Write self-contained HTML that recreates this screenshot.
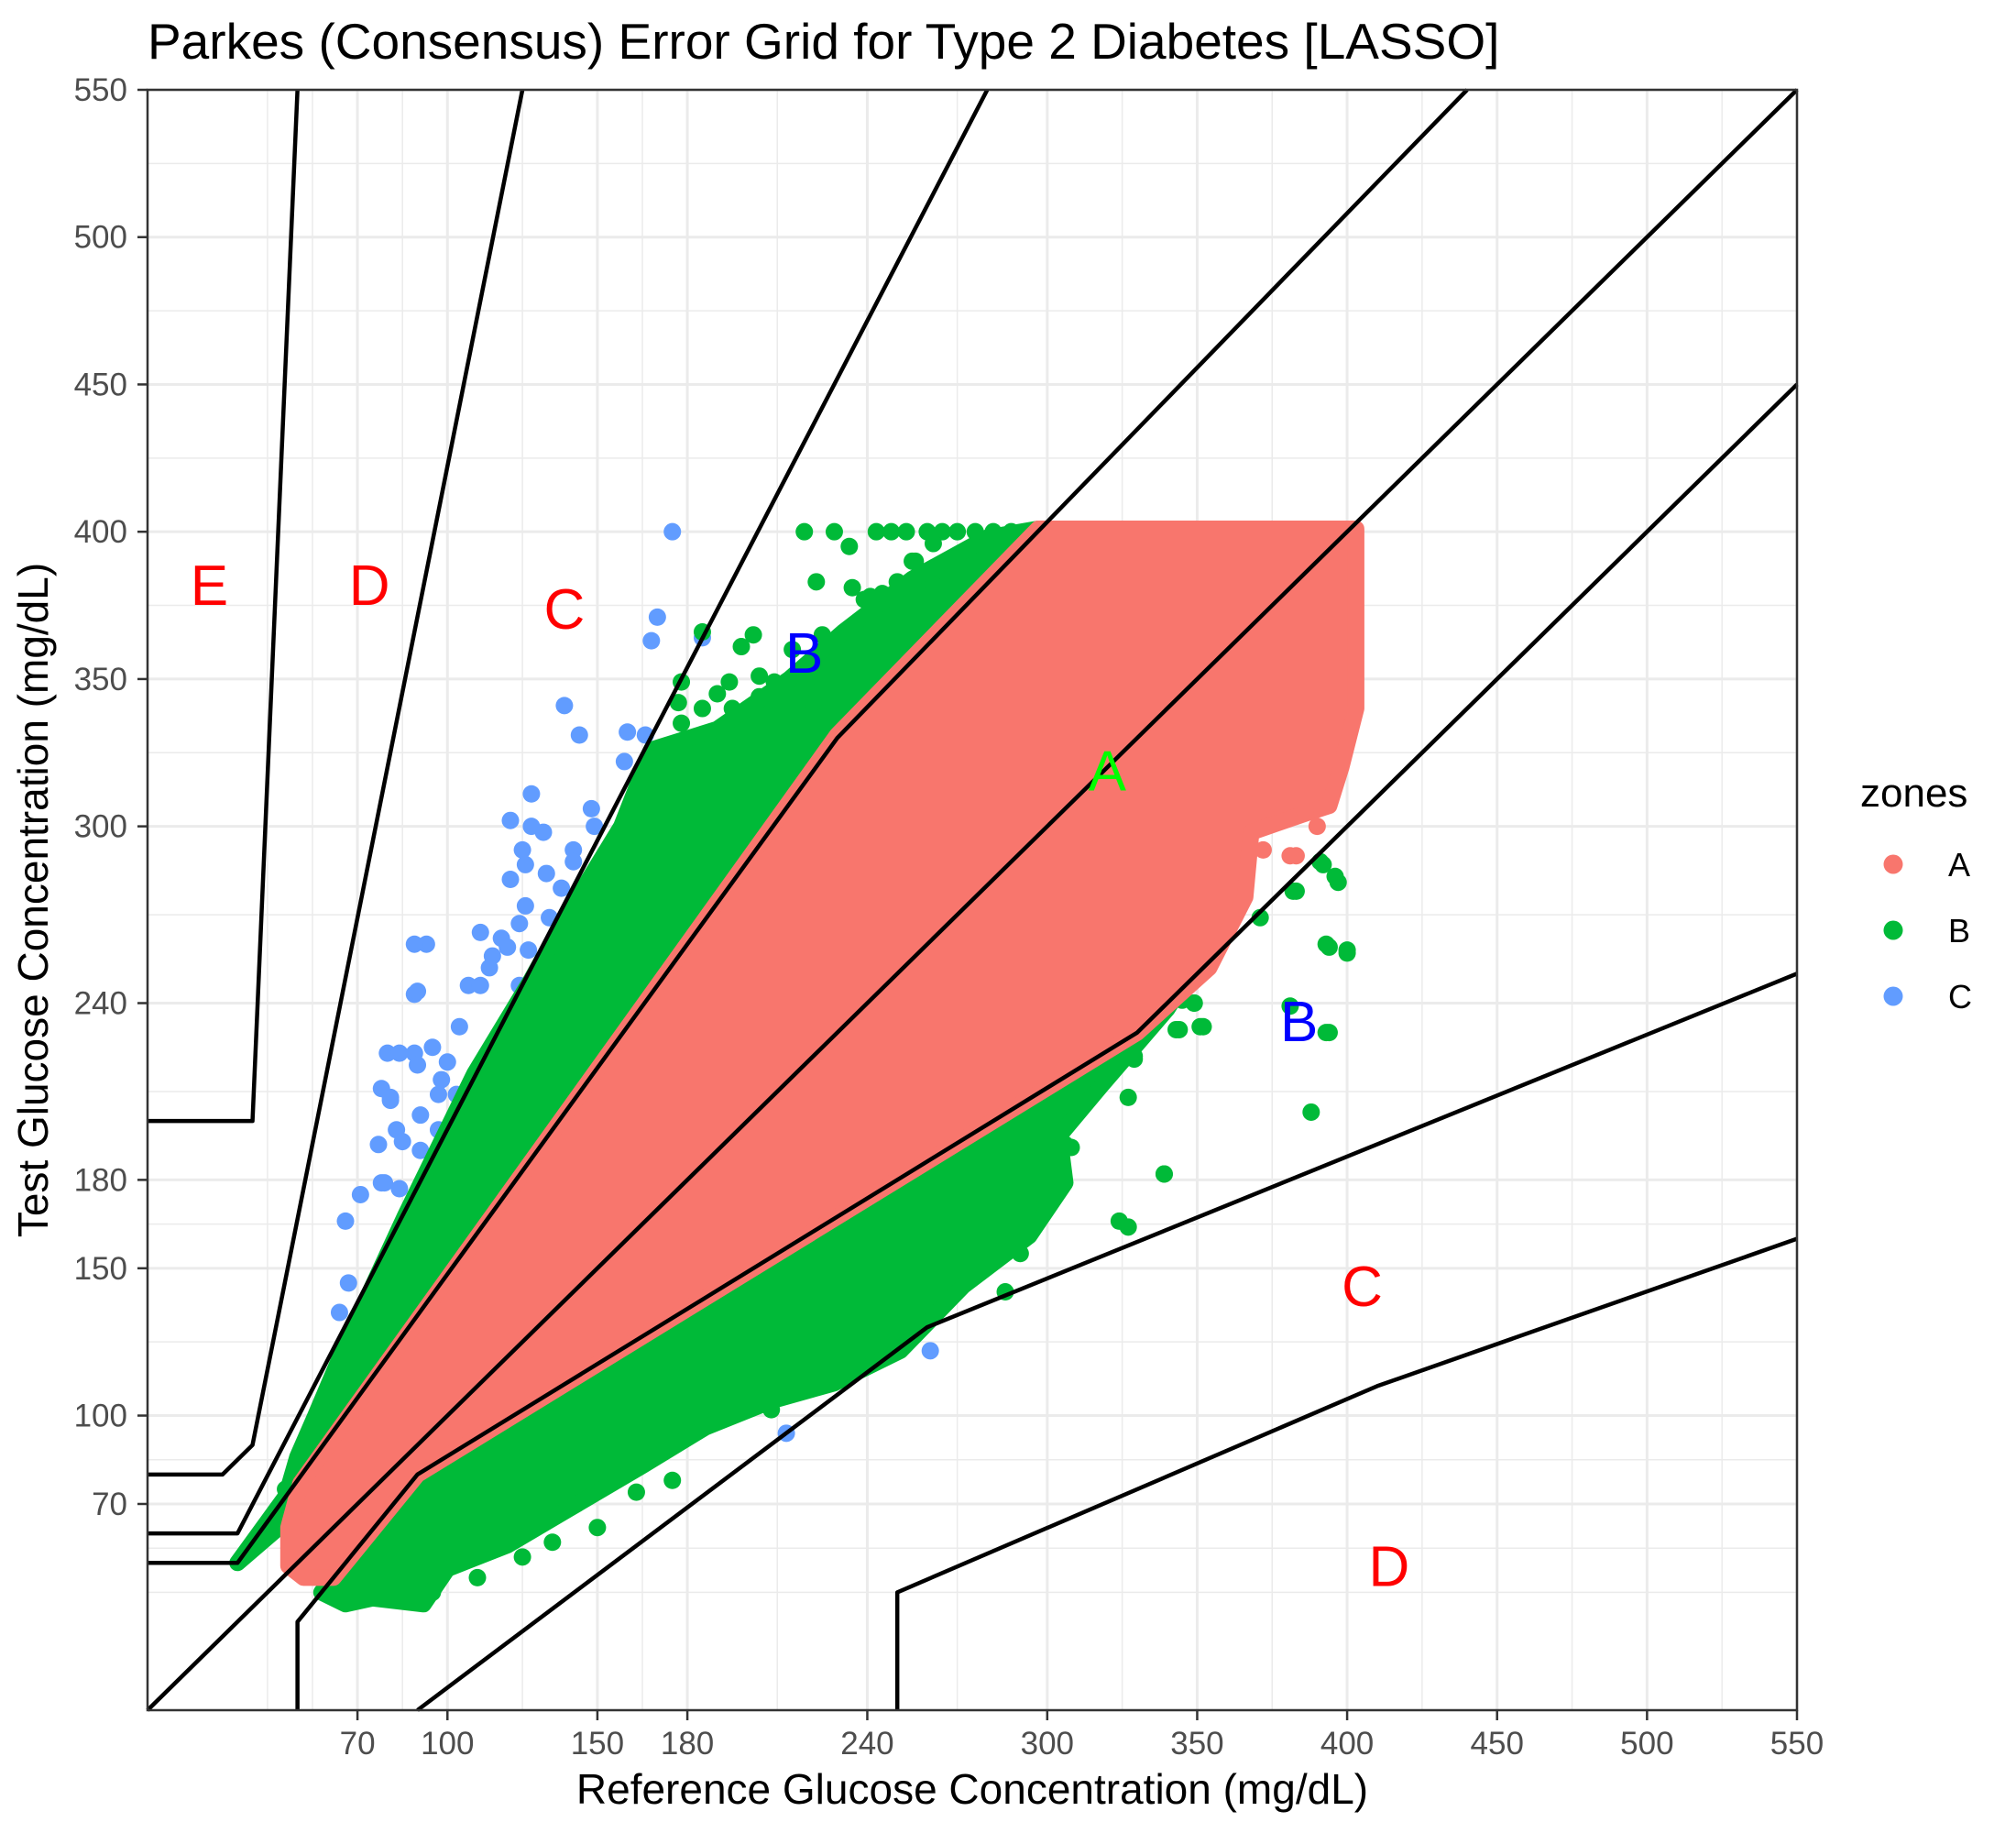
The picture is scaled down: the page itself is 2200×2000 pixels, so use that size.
<!DOCTYPE html>
<html><head><meta charset="utf-8"><title>Parkes Error Grid</title>
<style>
html,body{margin:0;padding:0;background:#fff;}
svg{display:block;font-family:"Liberation Sans",Arial,sans-serif;}
</style></head>
<body>
<svg id="chart" xmlns="http://www.w3.org/2000/svg" width="2200" height="2000" viewBox="0 0 2200 2000">
<rect x="0" y="0" width="2200" height="2000" fill="#fff"/>
<text x="161" y="64" font-size="55" fill="#000">Parkes (Consensus) Error Grid for Type 2 Diabetes [LASSO]</text>
<g id="grid"></g>
<g id="marks"></g>
<g id="zonelines"></g>
<g id="zonelabels"></g>
<rect x="161" y="98" width="1800" height="1768" fill="none" stroke="#333" stroke-width="2.5"/>
<g id="axes"></g>
<text x="1061" y="1968" font-size="46" text-anchor="middle" fill="#000">Reference Glucose Concentration (mg/dL)</text>
<text transform="translate(52,982) rotate(-90)" font-size="46" text-anchor="middle" fill="#000">Test Glucose Concentration (mg/dL)</text>
<g>
<text x="2030" y="880" font-size="44" fill="#000">zones</text>
<circle cx="2066" cy="943" r="10.5" fill="#F8766D"/>
<text x="2126" y="956" font-size="36" fill="#000">A</text>
<circle cx="2066" cy="1015" r="10.5" fill="#00BA38"/>
<text x="2126" y="1028" font-size="36" fill="#000">B</text>
<circle cx="2066" cy="1087" r="10.5" fill="#619CFF"/>
<text x="2126" y="1100" font-size="36" fill="#000">C</text>
</g>
</svg>
<script>
const xTicks=[70,100,150,180,240,300,350,400,450,500,550];
const yTicks=[70,100,150,180,240,300,350,400,450,500,550];
const minorBreaks=[40,55,85,125,165,210,270,325,375,425,475,525];
const domainMin=0, domainMax=550;
// zone boundary polylines [x,y] in mg/dL
const lineE=[[0,200],[35,200],[50,550]];
const lineDup=[[0,80],[25,80],[35,90],[125,550]];
const lineCup=[[0,60],[30,60],[280,550]];
const lineAup=[[0,50],[30,50],[230,330],[440,550]];
const lineIdentity=[[0,0],[550,550]];
const lineAlow=[[50,0],[50,30],[90,80],[330,230],[550,450]];
const lineBlow=[[90,0],[260,130],[550,250]];
const lineClow=[[250,0],[250,40],[410,110],[550,160]];
// dense point clouds (hull outlines of overplotted points)
const hullGreenUpper=[[46,72],[50,86],[56,100],[66,124],[86,168],[109,216],[128,248],[140,270],[158,300],[168,326],[190,333],[214,350],[232,366],[255,384],[280,398],[297,401],[230,330],[30,50],[46,64]];
const hullGreenLower=[[58,40],[66,36],[75,38],[92,36],[100,48],[120,56],[140,68],[165,83],[186,96],[208,105],[229,111],[251,122],[272,144],[294,161],[306,179],[304,195],[318,212],[340,238],[345,246],[330,230],[90,80],[58,40]];
const hullPink=[[47,49],[47,62],[51,77],[230,331],[297,401],[403,401],[403,340],[398,320],[394,307],[385,304],[368,298],[366,276],[354,252],[330,230],[90,80],[62,45],[52,45]];
// scattered individual points
const greenX=[219,229,243,248,253,260,265,270,276,282,288,293,262,270,280,255,250,262,275,240,225,215,210,220,232,190,195,185,178,200,210,222,234,223,256,241,246,235,245,239,202,198,194,204,185,178,177,209,204,324,327,286,280,291,298,306,339,343,351,349,371,382,396,391,393,400,393,388,381,329,329,392,397,383,394,400,394,352,345,349,344,352,327,329,320,314,327,339,288,308,297,298,289,308,301,46,50,135,163,189,208,110,125,150,175,95];
const greenY=[400,400,400,400,400,400,400,400,400,400,400,400,396,392,395,390,383,382,388,372,365,360,345,350,358,345,340,340,335,330,338,342,395,383,390,378,367,381,379,377,365,361,349,351,366,349,342,349,344,166,164,142,158,155,179,192,182,231,232,240,269,278,283,288,260,258,230,203,239,227,222,287,281,278,259,257,230,251,241,240,231,232,227,221,220,216,208,182,194,191,185,175,171,207,196,75,85,57,74,109,102,45,52,62,78,40];
const blueX=[175,170,168,185,139,144,160,166,159,128,121,128,132,148,149,125,126,142,142,133,121,138,126,124,134,111,118,120,127,115,114,93,107,111,124,89,104,80,89,95,90,100,78,81,97,98,91,103,83,85,91,97,78,84,66,67,64,71,79,77,81,84,89,90,261,213];
const blueY=[400,371,363,364,341,331,332,331,322,311,302,300,298,306,300,292,287,292,288,284,282,279,273,267,269,264,262,259,258,256,252,260,246,246,246,243,232,223,223,225,219,220,211,207,209,214,202,209,197,193,190,197,179,177,166,145,135,175,179,192,208,223,260,244,122,94];
const pinkX=[381,383,386,390,372,360];
const pinkY=[290,290,305,300,292,288];
// zone text labels
const labelText=["E","D","C","B","A","B","C","D"];
const labelX=[20.6,74,139,219,320,384,405,414];
const labelY=[382,382,374,359,319,234,144,49];
const labelColor=["#FF0000","#FF0000","#FF0000","#0000FF","#00FF00","#0000FF","#FF0000","#FF0000"];

const L=161,R=1961,T=98,B=1866;
function X(v){return L+(v-domainMin)*(R-L)/(domainMax-domainMin);}
function Y(v){return B-(v-domainMin)*(B-T)/(domainMax-domainMin);}
const NS="http://www.w3.org/2000/svg";
function mk(tag,attrs,parent){const e=document.createElementNS(NS,tag);for(const k in attrs)e.setAttribute(k,attrs[k]);parent.appendChild(e);return e;}
const grid=document.getElementById('grid'),marks=document.getElementById('marks'),zl=document.getElementById('zonelines'),zlab=document.getElementById('zonelabels'),axes=document.getElementById('axes');

minorBreaks.forEach(v=>{
  const a=mk('line',{x1:X(v),x2:X(v),y1:T,y2:B,stroke:'#EBEBEB','stroke-width':1.5},grid);
  
  
  const b=mk('line',{x1:L,x2:R,y1:Y(v),y2:Y(v),stroke:'#EBEBEB','stroke-width':1.5},grid);
  
  
});
xTicks.forEach(v=>{
  const g=mk('line',{x1:X(v),x2:X(v),y1:T,y2:B,stroke:'#EBEBEB','stroke-width':3},grid);
  
  
  const t=mk('line',{x1:X(v),x2:X(v),y1:B,y2:B+11,stroke:'#333','stroke-width':2.5},axes);
  
  
  const lb=mk('text',{x:X(v),y:B+48,'font-size':35,'text-anchor':'middle',fill:'#4D4D4D'},axes);
  lb.textContent=v;
  
  
});
yTicks.forEach(v=>{
  const g=mk('line',{x1:L,x2:R,y1:Y(v),y2:Y(v),stroke:'#EBEBEB','stroke-width':3},grid);
  
  
  const t=mk('line',{x1:L-11,x2:L,y1:Y(v),y2:Y(v),stroke:'#333','stroke-width':2.5},axes);
  
  
  const lb=mk('text',{x:L-22,y:Y(v)+12,'font-size':35,'text-anchor':'end',fill:'#4D4D4D'},axes);
  lb.textContent=v;
  
  
});

function hull(pts,color,name){
  const p=mk('polygon',{points:pts.map(q=>X(q[0])+','+Y(q[1])).join(' '),fill:color,stroke:color,'stroke-width':18,'stroke-linejoin':'round'},marks);
  
  
}
function dots(xs,ys,color,name){
  xs.forEach((v,i)=>{
    const c=mk('circle',{cx:X(v),cy:Y(ys[i]),r:9.5,fill:color},marks);
    
    
  });
}
dots(blueX,blueY,'#619CFF','point-zone-c');
hull(hullGreenUpper,'#00BA38','cloud-zone-b-upper');
hull(hullGreenLower,'#00BA38','cloud-zone-b-lower');
dots(greenX,greenY,'#00BA38','point-zone-b');
hull(hullPink,'#F8766D','cloud-zone-a');
dots(pinkX,pinkY,'#F8766D','point-zone-a');

const lines=[[lineE,'e-upper-boundary'],[lineDup,'d-upper-boundary'],[lineCup,'c-upper-boundary'],[lineAup,'a-upper-boundary'],[lineIdentity,'identity-line'],[lineAlow,'a-lower-boundary'],[lineBlow,'b-lower-boundary'],[lineClow,'c-lower-boundary']];
lines.forEach(([pts,nm])=>{
  const pl=mk('polyline',{points:pts.map(q=>X(q[0])+','+Y(q[1])).join(' '),fill:'none',stroke:'#000','stroke-width':4.5,'stroke-linejoin':'round'},zl);
  
  
});
labelText.forEach((s,i)=>{
  const t=mk('text',{x:X(labelX[i]),y:Y(labelY[i])+22,'font-size':62,'text-anchor':'middle',fill:labelColor[i]},zlab);
  t.textContent=s;
  
  
});
</script>
</body></html>
